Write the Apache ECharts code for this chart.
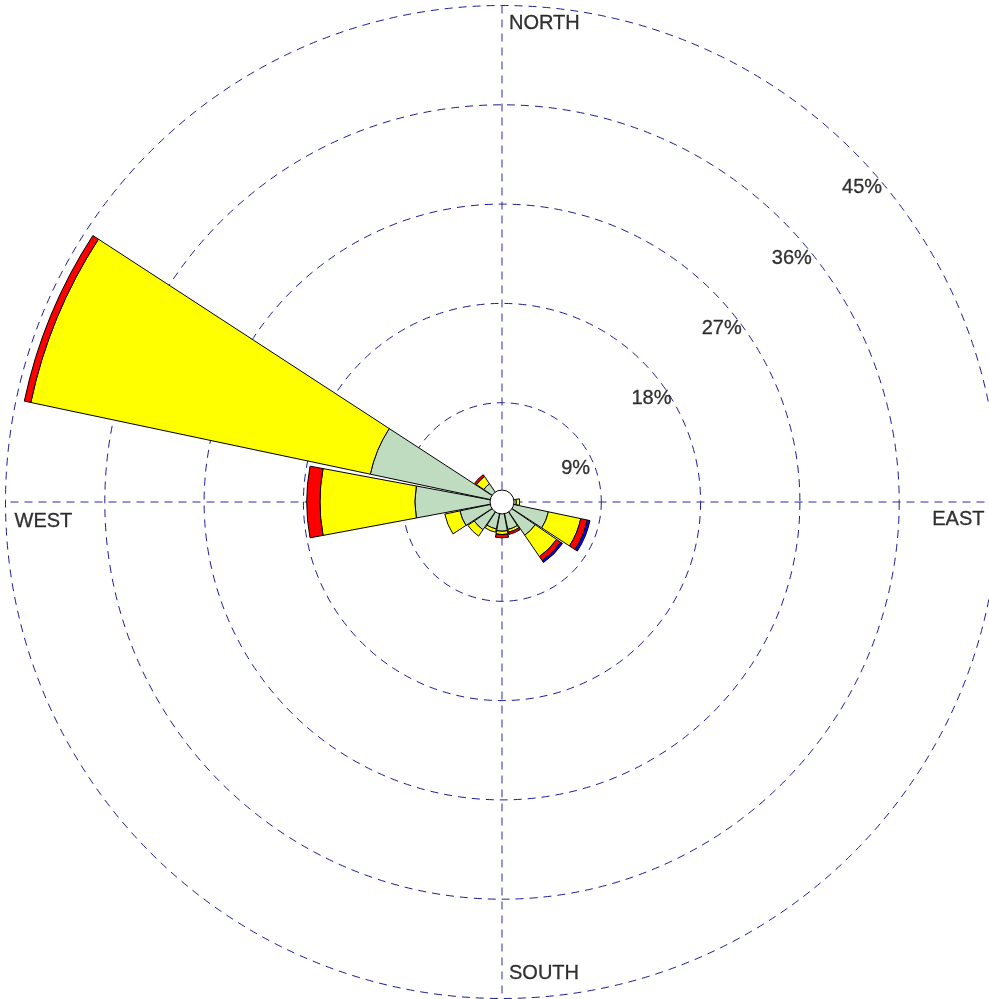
<!DOCTYPE html>
<html>
<head>
<meta charset="utf-8">
<script src="https://cdn.jsdelivr.net/npm/echarts@6/dist/echarts.min.js"></script>
<style>
  html, body { margin: 0; padding: 0; background: #ffffff; }
  #chart { width: 989px; height: 999px; }
</style>
</head>
<body>
<div id="chart"></div>
<script>
// Compass sectors, clockwise from north
const directions = ['N', 'NNE', 'NE', 'ENE', 'E', 'ESE', 'SE', 'SSE',
                    'S', 'SSW', 'SW', 'WSW', 'W', 'WNW', 'NW', 'NNW'];

// Frequency (%) of each speed class per direction, stacked from the centre outwards
const speedClass1 = [0, 0, 0, 0, 1.3, 4.3, 3.65, 2.55, 2.65, 2.5, 3.05, 3.9, 7.9, 12.2, 2.0, 0];
const speedClass2 = [0, 0, 0, 0, 0.3, 3.0, 2.35, 0.25, 0.3, 0.3, 0.7, 1.4, 8.6, 31.45, 0.8, 0];
const speedClass3 = [0, 0, 0, 0, 0, 0.6, 0.45, 0.2, 0.3, 0, 0, 0, 1.2, 0.6, 0.2, 0];
const speedClass4 = [0, 0, 0, 0, 0, 0.25, 0.2, 0, 0, 0, 0, 0, 0, 0, 0, 0];

// Ring ticks (%) and compass captions
const ringTicks = [9, 18, 27, 36, 45];
const compassNames = ['NORTH', 'EAST', 'SOUTH', 'WEST'];
const compassAngles = [0, 90, 180, 270];

const CENTER = [502, 502];
const RADIUS = 496.5;
const RMAX = 45;
const FONT = "'Liberation Sans', Arial, sans-serif";
const RING_LINE = { color: '#1c1c96', width: 1, type: [8, 6] };
const CROSS_LINE = { color: '#2a2aa8', width: 1, type: [8, 6] };

const classColors = ['#c0dcc0', '#ffff00', '#ff0000', '#0000ff'];
const classData = [speedClass1, speedClass2, speedClass3, speedClass4];

const chart = echarts.init(document.getElementById('chart'), null, { renderer: 'canvas' });

const textStyle = {
  color: '#000000',
  fontSize: 20,
  fontFamily: FONT,
  textBorderColor: '#000000',
  textBorderWidth: 0.3
};

const barSeries = classData.map((arr, i) => ({
  type: 'bar',
  coordinateSystem: 'polar',
  polarIndex: 0,
  stack: 'rose',
  barCategoryGap: '6%',
  data: arr.map(v => (v > 0 ? v : '-')),
  itemStyle: { color: classColors[i], borderColor: '#000000', borderWidth: 1 },
  silent: true,
  z: 3
}));

// North-south and east-west guide lines through the centre
const crossSeries = [[0, 180], [90, 270]].map(pair => ({
  type: 'line',
  coordinateSystem: 'polar',
  polarIndex: 1,
  data: pair.map(a => [RMAX, a]),
  symbol: 'none',
  silent: true,
  lineStyle: Object.assign({}, CROSS_LINE),
  z: 1
}));

// Caption placement around the outer ring
const compassLabelStyle = [
  { align: 'left', offset: [7, 17.5] },
  { align: 'right', offset: [-14, 17] },
  { align: 'left', offset: [7, -25.5] },
  { align: 'left', offset: [9, 19] }
];

const option = {
  backgroundColor: '#ffffff',
  animation: false,
  polar: [
    { center: CENTER, radius: RADIUS },
    { center: CENTER, radius: RADIUS }
  ],
  angleAxis: [
    {
      polarIndex: 0,
      type: 'category',
      data: directions,
      startAngle: 90 + 360 / directions.length / 2,
      clockwise: true,
      axisLine: { show: false }, axisTick: { show: false },
      axisLabel: { show: false }, splitLine: { show: false }
    },
    {
      polarIndex: 1,
      type: 'value',
      min: 0, max: 360, interval: 90,
      startAngle: 90,
      clockwise: true,
      axisLine: { show: false }, axisTick: { show: false },
      axisLabel: { show: false }, splitLine: { show: false }
    }
  ],
  radiusAxis: [
    {
      polarIndex: 0,
      type: 'value', min: 0, max: RMAX,
      axisLine: { show: false }, axisTick: { show: false },
      axisLabel: { show: false }, splitLine: { show: false }
    },
    {
      polarIndex: 1,
      type: 'value', min: 0, max: RMAX, interval: 9,
      axisLine: { show: false }, axisTick: { show: false },
      axisLabel: { show: false },
      splitLine: { show: true, lineStyle: RING_LINE }
    }
  ],
  series: [
    ...crossSeries,
    ...barSeries,
    {
      // ring value captions along the north-east diagonal
      type: 'scatter',
      coordinateSystem: 'polar',
      polarIndex: 1,
      symbolSize: 0,
      silent: true,
      data: ringTicks.map(t => [t, 45]),
      label: Object.assign({
        show: true,
        position: 'inside',
        align: 'left',
        offset: [-11, 37],
        formatter: p => p.value[0] + '%'
      }, textStyle),
      z: 4
    },
    {
      type: 'scatter',
      coordinateSystem: 'polar',
      polarIndex: 1,
      symbolSize: 0,
      silent: true,
      data: compassNames.map((name, i) => ({
        name: name,
        value: [RMAX, compassAngles[i]],
        label: compassLabelStyle[i]
      })),
      label: Object.assign({
        show: true,
        position: 'inside',
        formatter: p => p.name,
        verticalAlign: 'middle'
      }, textStyle),
      z: 4
    },
    {
      // calm-centre disc
      type: 'pie',
      center: CENTER,
      radius: [0, 12],
      silent: true,
      label: { show: false },
      labelLine: { show: false },
      data: [{ value: 1, itemStyle: { color: '#ffffff', borderColor: '#000000', borderWidth: 1 } }],
      z: 10
    }
  ]
};

chart.setOption(option);
</script>
</body>
</html>
